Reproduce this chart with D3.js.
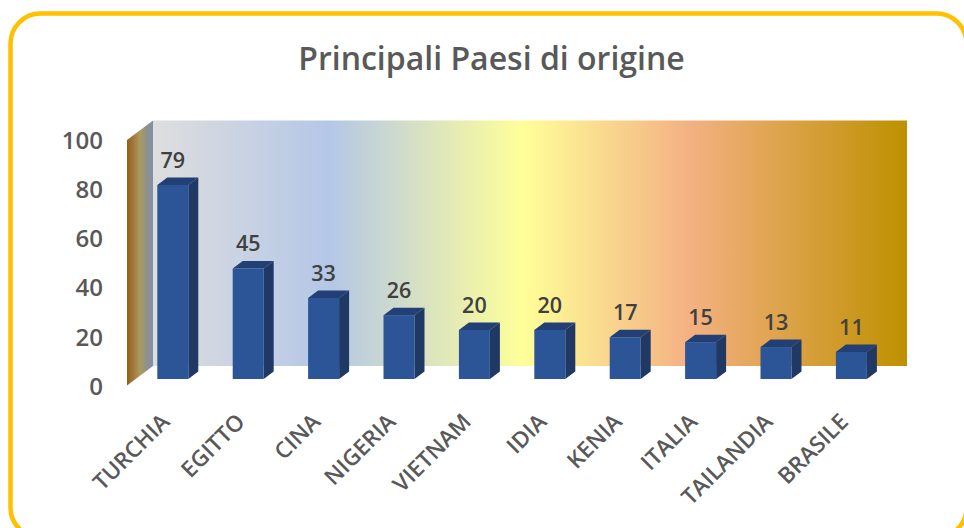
<!DOCTYPE html>
<html>
<head>
<meta charset="utf-8">
<script src="https://cdn.jsdelivr.net/npm/d3@7/dist/d3.min.js"></script>
<style>
  html, body { margin: 0; padding: 0; background: #fff; overflow: hidden; }
  text { font-family: "Open Sans", sans-serif; font-weight: 600; }
</style>
</head>
<body>
<svg width="964" height="528"></svg>
<script>
var paesi = ["TURCHIA", "EGITTO", "CINA", "NIGERIA", "VIETNAM", "IDIA", "KENIA", "ITALIA", "TAILANDIA", "BRASILE"];
var valori = [79, 45, 33, 26, 20, 20, 17, 15, 13, 11];
var yTicks = [0, 20, 40, 60, 80, 100];

var svg = d3.select("svg");

// depth of the fake 3d, floor and wall
var wallDx = 26, wallDy = 19.5;
var barDx = 10, barDy = 7.5;

var x = d3.scaleBand()
    .domain(paesi)
    .range([135.1, 889.1])
    .paddingInner(0.589)
    .paddingOuter(0.2945);

// y for the bars, base sits in front of the wall
var y = d3.scaleLinear()
    .domain([0, 100])
    .range([379, 133.4]);

// y for the axis labels, on the front edge of the side wall
var yAxis = d3.scaleLinear()
    .domain([0, 100])
    .range([385.5, 140]);

// gradients for the walls
var defs = svg.append("defs");

var back = defs.append("linearGradient").attr("id", "backWall");
[[0, "#dedede"], [0.235, "#b4c7e7"], [0.49, "#ffff99"], [0.71, "#f4b183"], [1, "#bf9000"]].forEach(function(s) {
  back.append("stop").attr("offset", s[0]).attr("stop-color", s[1]);
});

var side = defs.append("linearGradient").attr("id", "sideWall");
[[0, "#8f6214"], [0.25, "#a5773f"], [0.5, "#a89c60"], [0.75, "#90908a"], [1, "#7f90a8"]].forEach(function(s) {
  side.append("stop").attr("offset", s[0]).attr("stop-color", s[1]);
});

// yellow rounded frame, runs off the right and bottom of the picture
svg.append("rect")
    .attr("x", 10.5)
    .attr("y", 13.5)
    .attr("width", 956)
    .attr("height", 524)
    .attr("rx", 30)
    .attr("fill", "#fff")
    .attr("stroke", "#ffc000")
    .attr("stroke-width", 4.5);

svg.append("text")
    .attr("x", 491.5)
    .attr("y", 70)
    .attr("text-anchor", "middle")
    .attr("font-size", 32)
    .attr("fill", "#595959")
    .text("Principali Paesi di origine");

var wallLeft = 153, wallRight = 907;
var wallTop = yAxis(100) - wallDy, wallBottom = yAxis(0) - wallDy;

svg.append("rect")
    .attr("x", wallLeft)
    .attr("y", wallTop)
    .attr("width", wallRight - wallLeft)
    .attr("height", wallBottom - wallTop)
    .attr("fill", "url(#backWall)");

svg.append("path")
    .attr("d", "M" + (wallLeft - wallDx) + "," + yAxis(100)
      + "L" + wallLeft + "," + wallTop
      + "L" + wallLeft + "," + wallBottom
      + "L" + (wallLeft - wallDx) + "," + yAxis(0) + "Z")
    .attr("fill", "url(#sideWall)");

// bars: side face, top face, then front
var bars = svg.append("g").selectAll("g")
    .data(valori)
    .enter().append("g")
      .attr("transform", function(d, i) { return "translate(" + x(paesi[i]) + ",0)"; });

var w = x.bandwidth();

bars.append("path")
    .attr("fill", "#1f3864")
    .attr("d", function(d) {
      return "M" + w + "," + y(d) + "l" + barDx + "," + (-barDy)
        + "L" + (w + barDx) + "," + (y(0) - barDy)
        + "L" + w + "," + y(0) + "Z";
    });

bars.append("path")
    .attr("fill", "#223f76")
    .attr("d", function(d) {
      return "M0," + y(d) + "l" + barDx + "," + (-barDy)
        + "h" + w + "l" + (-barDx) + "," + barDy + "Z";
    });

bars.append("rect")
    .attr("y", function(d) { return y(d); })
    .attr("width", w)
    .attr("height", function(d) { return y(0) - y(d); })
    .attr("fill", "#2b5597");

// value labels
bars.append("text")
    .attr("x", w / 2)
    .attr("y", function(d) { return y(d) - 17; })
    .attr("text-anchor", "middle")
    .attr("font-size", 21.5)
    .attr("fill", "#404040")
    .text(function(d) { return d; });

// y axis, only the labels show
var yG = svg.append("g")
    .attr("transform", "translate(103,1)")
    .call(d3.axisLeft(yAxis).tickValues(yTicks).tickSize(0).tickPadding(0));
yG.select(".domain").remove();
yG.selectAll("text")
    .attr("font-size", 24)
    .attr("fill", "#595959");

// x labels, turned 45 degrees
paesi.forEach(function(p) {
  svg.append("text")
      .attr("transform", "translate(" + (x(p) + w / 2 - 13) + ",412) rotate(-45)")
      .attr("text-anchor", "end")
      .attr("dy", "0.7em")
      .attr("font-size", 22.5)
      .attr("fill", "#595959")
      .text(p);
});
</script>
</body>
</html>
